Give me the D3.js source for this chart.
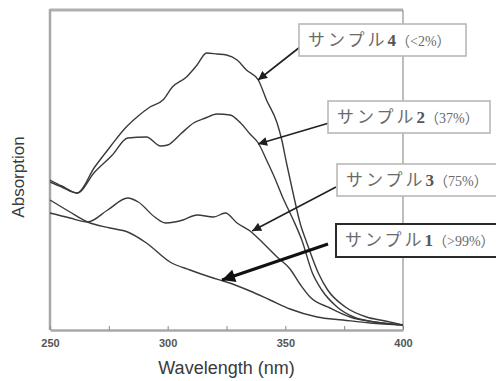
<!DOCTYPE html>
<html>
<head>
<meta charset="utf-8">
<script src="https://cdn.jsdelivr.net/npm/d3@7"></script>
<style>
  html, body { margin: 0; padding: 0; background: #fff; }
  svg { display: block; }
</style>
</head>
<body>
<div id="chart"></div>
<script>
// wavelength (nm) / absorption (a.u.)
const wl4 = [250, 255, 261.5, 269, 275.5, 282, 287, 292.5, 298, 302, 308, 312.5, 316.5, 321, 325, 329.5, 333.5, 338.5, 342, 346.5, 348.5, 350.5, 353, 356.5, 359, 364, 368, 375.5, 384.5, 392.5, 400];
const ab4 = [1.50, 1.44, 1.37, 1.63, 1.83, 2.02, 2.13, 2.23, 2.30, 2.43, 2.53, 2.65, 2.77, 2.76, 2.75, 2.70, 2.60, 2.50, 2.30, 2.07, 1.90, 1.67, 1.40, 1.05, 0.88, 0.57, 0.40, 0.23, 0.13, 0.09, 0.05];

const wl2 = [250, 255, 261.5, 269, 276.5, 283, 291, 297, 300, 305.5, 311, 316, 321, 326.5, 331, 335, 338.5, 342, 345.5, 349, 353, 357, 361.5, 365.5, 372, 379, 388, 400];
const ab2 = [1.48, 1.43, 1.37, 1.58, 1.75, 1.92, 1.93, 1.84, 1.85, 1.96, 2.07, 2.12, 2.16, 2.15, 2.07, 1.96, 1.87, 1.70, 1.52, 1.32, 1.12, 0.90, 0.57, 0.40, 0.23, 0.13, 0.08, 0.05];

const wl3 = [250, 258.5, 266, 274.5, 283, 287.5, 294.5, 299, 303, 306.5, 312.5, 319.5, 324.5, 329.5, 335, 340.5, 346.5, 352, 356.5, 360.5, 369, 377.5, 388, 400];
const ab3 = [1.17, 1.12, 1.08, 1.20, 1.32, 1.28, 1.13, 1.07, 1.08, 1.10, 1.15, 1.13, 1.17, 1.07, 0.99, 0.87, 0.73, 0.61, 0.45, 0.33, 0.22, 0.13, 0.08, 0.05];

const wl1 = [250, 258.5, 266, 275.5, 283, 291, 301, 309.5, 318, 325, 335, 343.5, 352, 363.5, 374.5, 386, 400];
const ab1 = [1.30, 1.18, 1.08, 1.02, 0.98, 0.87, 0.68, 0.60, 0.53, 0.48, 0.39, 0.30, 0.21, 0.13, 0.10, 0.07, 0.05];

const xTicks = [250, 300, 350, 400];
const xMinorTicks = [275, 325, 375];

// label text, number, percentage; arrow tip on the curve (wavelength, absorption)
const labelNames = ["サンプル", "サンプル", "サンプル", "サンプル"];
const labelNums = ["4", "2", "3", "1"];
const labelPcts = ["（<2%）", "（37%）", "（75%）", "（>99%）"];
const tipWl = [338.4, 338.4, 335.9, 323.1];
const tipAb = [2.50, 1.86, 0.99, 0.50];

const width = 496, height = 381;
const svg = d3.select("#chart").append("svg")
    .attr("width", width)
    .attr("height", height);

const x = d3.scaleLinear().domain([250, 400]).range([50, 403]);
const y = d3.scaleLinear().domain([0, 3.2]).range([330, 10]);

// frame
svg.append("line")
    .attr("x1", x(250)).attr("x2", x(400))
    .attr("y1", y(3.2)).attr("y2", y(3.2))
    .attr("stroke", "#b0b0b0").attr("stroke-width", 3);
svg.append("line")
    .attr("x1", x(400)).attr("x2", x(400))
    .attr("y1", y(3.2)).attr("y2", y(0))
    .attr("stroke", "#9a9a9a").attr("stroke-width", 1.3);
svg.append("line")
    .attr("x1", x(250)).attr("x2", x(250))
    .attr("y1", y(3.2) - 1).attr("y2", y(0))
    .attr("stroke", "#a8a8a8").attr("stroke-width", 2.5);

const xAxis = svg.append("g")
    .attr("transform", "translate(0," + y(0) + ")")
    .call(d3.axisBottom(x).tickValues(xTicks).tickFormat(d3.format("d"))
        .tickSizeInner(-4).tickSizeOuter(0).tickPadding(9));
xAxis.select(".domain").attr("stroke", "#a8a8a8").attr("stroke-width", 2.5);
xAxis.selectAll(".tick line").attr("stroke", "#888");
xAxis.selectAll("text")
    .attr("font-family", "Liberation Sans, Arial, sans-serif")
    .attr("font-size", 11)
    .attr("font-weight", "bold")
    .attr("fill", "#555");

svg.append("g")
    .attr("transform", "translate(0," + y(0) + ")")
    .call(d3.axisBottom(x).tickValues(xMinorTicks).tickFormat("")
        .tickSizeInner(-4).tickSizeOuter(0))
    .call(g => g.select(".domain").remove())
    .selectAll(".tick line").attr("stroke", "#888");

svg.append("text")
    .attr("x", (x(250) + x(400)) / 2)
    .attr("y", 374)
    .attr("text-anchor", "middle")
    .attr("font-family", "Liberation Sans, Arial, sans-serif")
    .attr("font-size", 18)
    .attr("fill", "#3a3a3a")
    .text("Wavelength (nm)");

svg.append("text")
    .attr("transform", "translate(24,177) rotate(-90)")
    .attr("text-anchor", "middle")
    .attr("font-family", "Liberation Sans, Arial, sans-serif")
    .attr("font-size", 17)
    .attr("fill", "#3a3a3a")
    .text("Absorption");

// curves
const line = d3.line()
    .x(d => x(d[0]))
    .y(d => y(d[1]))
    .curve(d3.curveMonotoneX);

[[wl4, ab4], [wl2, ab2], [wl3, ab3], [wl1, ab1]].forEach(function (s) {
    svg.append("path")
        .datum(d3.zip(s[0], s[1]))
        .attr("d", line)
        .attr("fill", "none")
        .attr("stroke", "#3a3a3a")
        .attr("stroke-width", 1.4);
});

// label boxes (pixel layout) and arrows
const boxes = [
    { x: 299, y: 24, w: 167, h: 32, ax: 300, ay: 47 },
    { x: 328, y: 101, w: 162, h: 32, ax: 329, ay: 123 },
    { x: 337, y: 164, w: 170, h: 32, ax: 336, ay: 187 },
    { x: 336, y: 224, w: 170, h: 33, ax: 328, ay: 244 }
];

const defs = svg.append("defs");
defs.append("marker")
    .attr("id", "head")
    .attr("viewBox", "0 0 10 10")
    .attr("refX", 10).attr("refY", 5)
    .attr("markerWidth", 11).attr("markerHeight", 9)
    .attr("markerUnits", "userSpaceOnUse")
    .attr("orient", "auto")
    .append("path").attr("d", "M0,0L10,5L0,10z").attr("fill", "#1e1e1e");
defs.append("marker")
    .attr("id", "headBig")
    .attr("viewBox", "0 0 10 10")
    .attr("refX", 10).attr("refY", 5)
    .attr("markerWidth", 15).attr("markerHeight", 13)
    .attr("markerUnits", "userSpaceOnUse")
    .attr("orient", "auto")
    .append("path").attr("d", "M0,0L10,5L0,10z").attr("fill", "#111");

boxes.forEach(function (b, i) {
    const big = i === 3;
    svg.append("line")
        .attr("x1", b.ax).attr("y1", b.ay)
        .attr("x2", x(tipWl[i])).attr("y2", y(tipAb[i]))
        .attr("stroke", big ? "#111" : "#222")
        .attr("stroke-width", big ? 3 : 1.6)
        .attr("marker-end", big ? "url(#headBig)" : "url(#head)");

    svg.append("rect")
        .attr("x", b.x).attr("y", b.y)
        .attr("width", b.w).attr("height", b.h)
        .attr("fill", "#fff")
        .attr("stroke", big ? "#2a2a2a" : "#b8b8b8")
        .attr("stroke-width", big ? 2 : 1.6);

    const t = svg.append("text")
        .attr("x", b.x + 9)
        .attr("y", b.y + 22)
        .attr("fill", "#6a6a6a");
    t.append("tspan")
        .attr("font-family", "Noto Sans CJK JP, sans-serif")
        .attr("font-size", 17)
        .attr("letter-spacing", 3)
        .text(labelNames[i]);
    t.append("tspan")
        .attr("font-family", "Liberation Serif, serif")
        .attr("font-size", 17)
        .attr("font-weight", "bold")
        .attr("fill", "#555")
        .text(labelNums[i]);
    t.append("tspan")
        .attr("font-family", "Liberation Serif, Noto Sans CJK JP, serif")
        .attr("font-size", 14)
        .text(labelPcts[i]);
});
</script>
</body>
</html>
